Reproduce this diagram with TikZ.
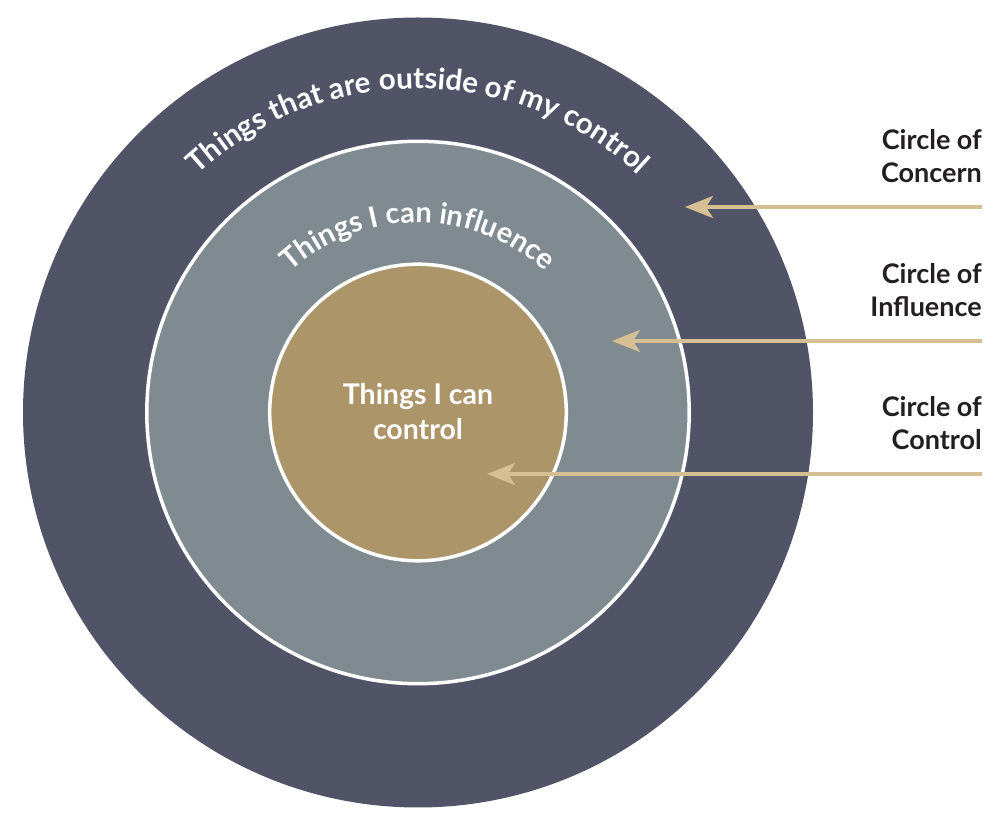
\documentclass[tikz,border=0pt]{standalone}
\usepackage{fontspec}
\setmainfont{Lato}
\usetikzlibrary{arrows.meta,decorations.text}
\definecolor{concern}{HTML}{515467}
\definecolor{influence}{HTML}{7F8A91}
\definecolor{control}{HTML}{AD956A}
\definecolor{arrowtan}{HTML}{D5BF93}
\definecolor{labeltext}{HTML}{231F20}
\tikzset{
  ring/.style={draw=white, line width=3.5pt},
  pointer/.style={draw=arrowtan, line width=3.3pt, -{Stealth[length=28pt, width=22pt, inset=7pt]}},
  sidelabel/.style={anchor=base east, align=right, text=labeltext, font=\fontsize{27}{33.5}\selectfont\bfseries, inner sep=0pt},
  centerlabel/.style={align=center, text=white, font=\fontsize{28.5}{35}\selectfont\bfseries, inner sep=0pt, anchor=base}
}
\begin{document}
\begin{tikzpicture}[x=1pt,y=1pt]
\useasboundingbox (0,0) rectangle (1005,825);
\coordinate (c) at (418,412.5);
% circles
\fill[concern] (c) circle[radius=395];
\path[ring, fill=influence] (c) circle[radius=271.2];
\path[ring, fill=control] (c) circle[radius=148.3];
% curved texts
\path[decorate, decoration={text along path, text align=center,
  text format delimiters={|}{|},
  text={|\fontsize{29.5}{29.5}\selectfont\bfseries\color{white}|Things that are outside of my control}}]
  (c) ++(170:324) arc[start angle=170, end angle=10, radius=324];
\path[decorate, decoration={text along path, text align=center,
  text format delimiters={|}{|},
  text={|\fontsize{29}{29}\selectfont\bfseries\color{white}|Things I can influence}}]
  (c) ++(170:190) arc[start angle=170, end angle=10, radius=190];
% center text
\node[centerlabel] (ctext) at (418,385) {Things I can\\control};
% side labels
\node[sidelabel] (lconcern) at (982,642) {Circle of\\Concern};
\node[sidelabel] (linfluence) at (982,508) {Circle of\\Influence};
\node[sidelabel] (lcontrol) at (982,375) {Circle of\\Control};
% arrows
\coordinate (s1) at (982,618);
\coordinate (t1) at (685,618);
\coordinate (s2) at (982,484);
\coordinate (t2) at (612,484);
\coordinate (s3) at (982,351);
\coordinate (t3) at (487,351);
\draw[pointer] (s1) -- (t1);
\draw[pointer] (s2) -- (t2);
\draw[pointer] (s3) -- (t3);
\end{tikzpicture}
\end{document}
